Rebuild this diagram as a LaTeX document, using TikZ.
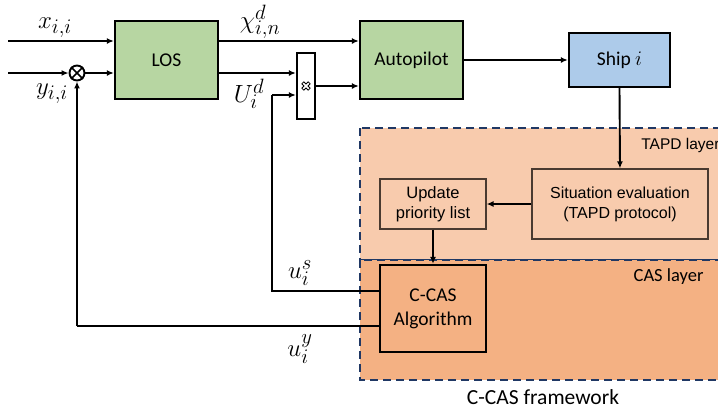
\documentclass[tikz,border=0pt]{standalone}
\usepackage{fontspec}
\setmainfont{Carlito}
\newfontfamily\arialf{Liberation Sans}
\usetikzlibrary{arrows.meta}
\definecolor{losgreen}{HTML}{B7D6A2}
\definecolor{shipblue}{HTML}{ADCBEA}
\definecolor{tapdfill}{HTML}{F8CBAD}
\definecolor{casfill}{HTML}{F4B183}
\definecolor{dashblue}{HTML}{203864}
\definecolor{boxbrown}{HTML}{4A3A30}
\tikzset{
  arr/.style={-{Latex[length=7pt,width=6pt]}, line width=1.9pt},
  ln/.style={line width=1.9pt},
  mainbox/.style={draw=black, line width=2.3pt, minimum width=#1, inner sep=0pt},
  thinbox/.style={draw=boxbrown, line width=1.2pt, inner sep=0pt, align=center},
  lbl/.style={font=\fontsize{19.5}{23}\selectfont},
  mlbl/.style={font=\fontsize{28}{32}\selectfont, inner sep=0pt},
  layer/.style={draw=dashblue, line width=2pt, dash pattern=on 8pt off 5pt},
}
\begin{document}
\begin{tikzpicture}[x=1pt,y=-1pt]
\useasboundingbox (0,0) rectangle (718,410);
\clip (0,0) rectangle (718,410);
% layers
\path[layer, fill=tapdfill] (360,128) rectangle (740,260);
\path[layer, fill=casfill] (360,260) rectangle (740,380);
\node[font=\arialf\fontsize{15.5}{18}\selectfont, anchor=east] (tapdl) at (723,145) {TAPD layer};
\node[font=\fontsize{18.5}{22}\selectfont, anchor=east] (casl) at (707,277) {CAS layer};
\node[font=\fontsize{21.5}{25}\selectfont] (fw) at (543,397) {C-CAS framework};
% boxes
\node[mainbox=103pt, minimum height=78pt, fill=losgreen, lbl] (LOS) at (166.5,60) {LOS};
\node[mainbox=103pt, minimum height=78pt, fill=losgreen, lbl] (AP) at (411.5,60) {Autopilot};
\node[mainbox=101pt, minimum height=54pt, fill=shipblue, lbl] (Ship) at (619.5,60) {Ship $i$};
\node[mainbox=18pt, minimum height=66pt, fill=white] (M) at (306,86) {};
\draw[line width=0.8pt, rotate around={45:(306,86)}]
  (307.4,90.5) -- ++(0,-3.1) -- ++(3.1,0) -- ++(0,-2.8) -- ++(-3.1,0) -- ++(0,-3.1)
  -- ++(-2.8,0) -- ++(0,3.1) -- ++(-3.1,0) -- ++(0,2.8) -- ++(3.1,0) -- ++(0,3.1) -- cycle;
\node[draw=black, line width=1.9pt, circle, minimum size=15pt, inner sep=0pt] (C) at (77,73) {};
\draw[line width=1.6pt] (C.north east) -- (C.south west) (C.north west) -- (C.south east);
\node[thinbox, minimum width=176pt, minimum height=70pt, font=\arialf\fontsize{16}{20}\selectfont] (Sit) at (620,204) {Situation evaluation\\(TAPD protocol)};
\node[thinbox, minimum width=106pt, minimum height=50pt, font=\arialf\fontsize{16.5}{20}\selectfont] (Upd) at (433,204) {Update\\priority list};
\node[mainbox=106pt, minimum height=87pt, fill=casfill, font=\fontsize{19.5}{24}\selectfont, align=center] (CC) at (433,308.5) {C-CAS\\Algorithm};
% inputs
\coordinate (xin) at (8,41);
\coordinate (yin) at (8,73);
\draw[arr] (xin) -- (xin -| LOS.west);
\draw[arr] (yin) -- (C.west);
\draw[arr] (C.east) -- (C.east -| LOS.west);
\draw[arr] (LOS.east |- xin) -- (xin -| AP.west);
\draw[arr] (LOS.east |- yin) -- (yin -| M.west);
\draw[arr] (M.east) -- (M.east -| AP.west);
\draw[arr] (AP.east) -- (Ship.west);
\draw[arr] (Ship.south) -- (Sit.north);
\draw[arr] (Sit.west) -- (Upd.east);
\draw[arr] (Upd.south) -- (CC.north);
% feedback
\coordinate (us0) at (CC.west |- 0,291);
\coordinate (uy0) at (CC.west |- 0,326);
\coordinate (usc) at (272,291);
\coordinate (usm) at (272,95);
\draw[ln] (us0) -- (usc) -- (usm);
\draw[arr] (usm) -- (usm -| M.west);
\coordinate (uyc) at (77,326);
\draw[ln] (uy0) -- (uyc);
\draw[arr] (uyc) -- (C.south);
% labels
\node[mlbl] (lx) at (55,28) {$x_{i,i}$};
\node[mlbl] (ly) at (52,94) {$y_{i,i}$};
\node[mlbl] (lchi) at (260,22) {$\chi^{d}_{i,n}$};
\node[mlbl] (lU) at (249,94) {$U^{d}_{i}$};
\node[mlbl] (lus) at (300,273) {$u^{s}_{i}$};
\node[mlbl] (luy) at (300,349) {$u^{y}_{i}$};
\end{tikzpicture}
\end{document}
